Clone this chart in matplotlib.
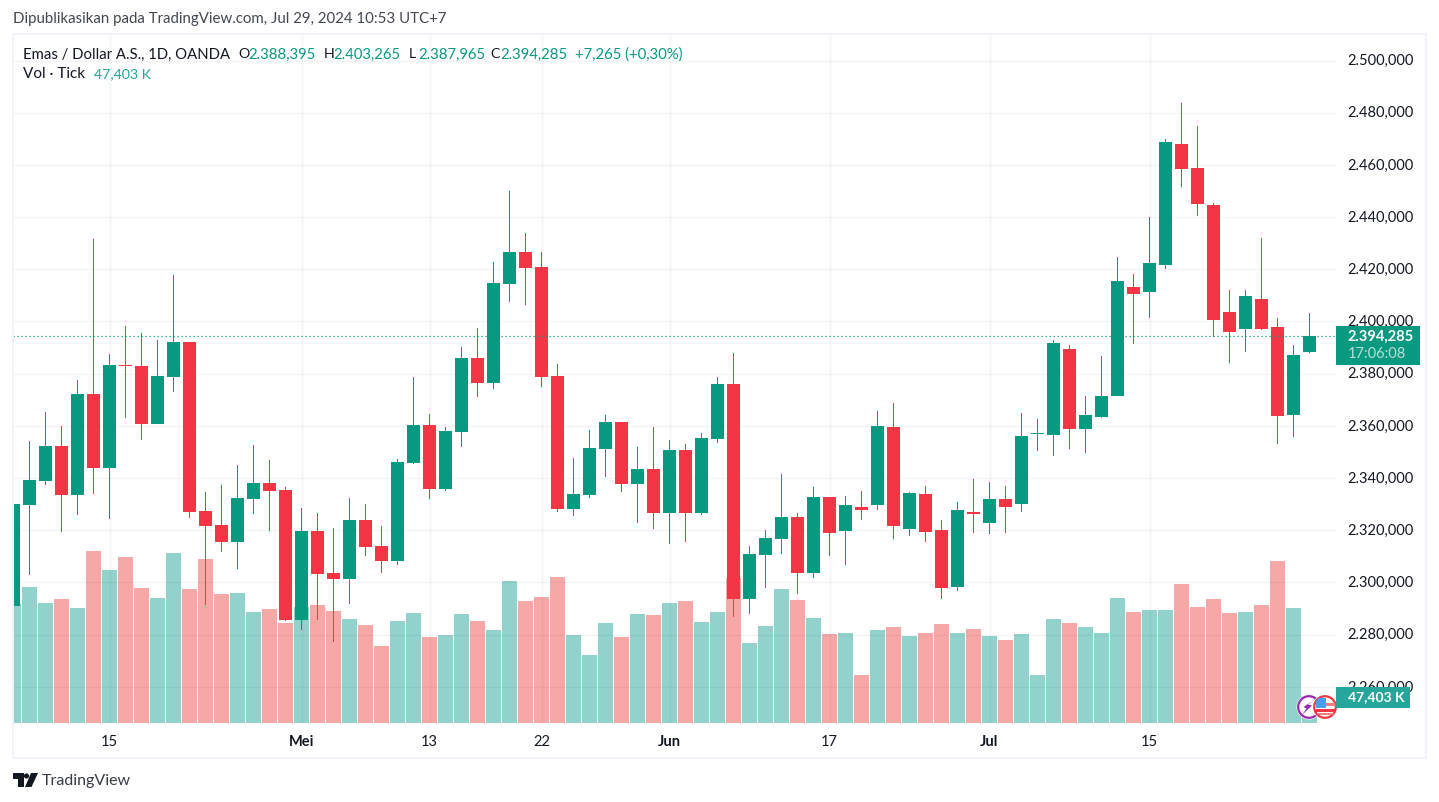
import matplotlib
matplotlib.use("Agg")
import matplotlib.pyplot as plt
from matplotlib.patches import Rectangle, Circle, Polygon
from matplotlib.transforms import ScaledTranslation
import numpy as np

FONT = ["Lato", "DejaVu Sans"]
plt.rcParams["font.family"] = FONT

opens = [2291.0,2329.69,2338.89,2352.3,2333.53,2372.22,2343.87,2383.33,2382.95,2360.73,2378.74,2392.15,2327.4,2322.03,2315.52,2331.99,2338.12,2335.44,2285.63,2319.73,
         2303.64,2301.34,2323.94,2314.0,2308.24,2345.78,2360.34,2335.82,2357.66,2386.01,2376.43,2414.36,2426.62,2420.88,2379.11,2328.16,2333.52,2351.14,2361.49,2337.73,
         2343.48,2326.63,2350.76,2326.63,2354.98,2376.05,2293.68,2310.53,2316.66,2325.09,2303.64,2332.76,2319.73,2328.93,2329.69,2359.58,2320.5,2333.91,2320.11,2298.27,
         2327.0,2322.79,2331.99,2330.07,2356.97,2356.59,2389.54,2358.88,2363.48,2371.53,2413.29,2411.38,2421.72,2468.08,2458.88,2444.71,2403.71,2397.2,2408.69,2397.97,
         2364.25,2388.395]
highs = [2330.46,2354.22,2365.33,2359.96,2377.59,2431.61,2387.55,2398.28,2395.59,2392.91,2417.82,2392.15,2334.68,2337.36,2345.02,2352.68,2346.94,2336.59,2328.55,2326.63,
         2320.88,2332.37,2330.07,2321.64,2347.31,2378.73,2364.55,2359.57,2390.23,2397.51,2422.79,2450.0,2433.9,2426.62,2383.71,2347.7,2358.42,2364.17,2361.49,2351.91,
         2359.58,2354.6,2353.06,2357.28,2378.73,2387.93,2313.98,2320.11,2341.57,2326.63,2336.59,2332.76,2333.14,2335.06,2365.71,2368.77,2334.67,2336.97,2323.94,2330.84,
         2339.65,2338.5,2336.97,2365.02,2362.72,2392.98,2391.07,2371.53,2386.85,2424.79,2418.27,2440.11,2470.0,2483.79,2474.98,2445.47,2412.14,2412.14,2432.07,2401.41,
         2391.07,2403.265]
lows = [2267.6,2302.87,2337.36,2319.35,2325.86,2333.91,2324.33,2363.03,2354.6,2360.73,2372.99,2324.71,2291.38,2311.69,2305.17,2326.25,2319.73,2285.25,2281.8,2285.63,
        2277.33,2291.8,2310.15,2303.64,2306.7,2345.4,2331.99,2335.05,2351.91,2371.07,2374.13,2407.47,2406.32,2374.9,2327.01,2325.47,2332.37,2340.42,2334.67,2322.79,
        2320.5,2314.75,2315.52,2325.86,2353.45,2286.78,2287.93,2297.89,2310.92,2295.59,2301.72,2310.15,2306.7,2323.94,2327.78,2316.66,2317.81,2315.52,2293.68,2296.74,
        2318.96,2318.58,2318.96,2327.01,2350.46,2348.54,2351.22,2349.69,2363.1,2371.53,2391.45,2401.41,2420.19,2451.61,2440.49,2394.13,2384.17,2388.39,2396.82,2353.14,
        2355.82,2387.965]
closes = [2330.08,2339.27,2352.3,2333.53,2372.22,2343.87,2383.33,2382.95,2360.73,2379.12,2392.15,2327.01,2321.65,2315.52,2332.38,2338.12,2335.06,2285.63,2319.73,2303.26,
          2301.34,2323.94,2313.6,2308.24,2346.16,2360.34,2335.82,2358.04,2386.01,2376.43,2414.75,2426.62,2420.49,2378.73,2328.16,2333.9,2351.53,2361.49,2337.73,2343.48,
          2326.63,2350.76,2326.63,2355.36,2376.05,2293.68,2310.92,2317.05,2325.09,2303.64,2332.76,2318.96,2329.69,2327.78,2359.96,2321.65,2334.29,2319.35,2297.89,2327.78,
          2326.24,2331.99,2328.92,2356.2,2357.35,2391.84,2358.88,2364.25,2371.53,2415.59,2410.61,2422.49,2468.85,2458.5,2445.09,2400.65,2396.05,2409.84,2397.2,2363.87,
          2387.24,2394.285]
volumes = [217,248,219,226,210,314,279,303,246,228,310,244,299,235,237,202,208,182,211,215,
           204,190,179,140,186,201,157,160,199,186,170,259,222,230,266,160,124,182,157,199,
           197,219,222,184,202,264,146,177,244,224,191,162,164,88,170,175,159,164,180,164,
           171,159,151,162,88,190,182,175,164,228,202,206,206,253,211,226,201,202,215,295,
           210,47.403]

price_ticks = list(range(2260, 2501, 20))
time_ticks = [6, 18, 26, 33, 41, 51, 61, 71]
time_labels = ["15", "Mei", "13", "22", "Jun", "17", "Jul", "15"]
month_labels = {"Mei", "Jun", "Jul"}
last_price = 2394.285

UP, DOWN = "#089981", "#F23645"
VUP, VDOWN = "#26A69A", "#EF5350"
TXT = "#131722"
W, H = 1439, 802

fig = plt.figure(figsize=(W / 100, H / 100), dpi=100, facecolor="white")
L, R, T, B = 13, 1336, 35, 723
rect = [L / W, 1 - B / H, (R - L) / W, (B - T) / H]

ax = fig.add_axes(rect, zorder=3)
axv = fig.add_axes(rect, zorder=2, sharex=ax)
ax.patch.set_visible(False)
axv.set_facecolor("white")

x = np.arange(len(closes))
o, h, l, c = map(np.array, (opens, highs, lows, closes))
up = c >= o
cols = [UP if u else DOWN for u in up]

# volume
axv.bar(x, volumes, width=15 / 16, color=[VUP if u else VDOWN for u in up],
        alpha=0.5, linewidth=0)
axv.set_ylim(0, (B - T) * 1.823)
axv.set_yticks([])

# candles: wicks, then bodies
ax.bar(x, h - l, bottom=l, width=1 / 16, color=cols, linewidth=0, zorder=3)
ax.bar(x, np.maximum(np.abs(c - o), 0.4), bottom=np.minimum(o, c), width=13 / 16,
       color=cols, linewidth=0, zorder=4)
ax.axhline(last_price, color=UP, linewidth=0.9, linestyle=(0, (1, 2.2)), zorder=5)

ax.set_xlim((L - 13.5) / 16, (R - 13.5) / 16)
ax.set_ylim(2420 - (B - 269.3) / 2.61, 2420 + (269.3 - T) / 2.61)
ax.set_yticks(price_ticks)
ax.set_yticklabels([f"{v:,.3f}".replace(",", "#").replace(".", ",").replace("#", ".") for v in price_ticks],
                   fontsize=10.5, color=TXT)
ax.yaxis.tick_right()
ax.tick_params(axis="y", length=0, pad=8)
shift = ScaledTranslation(0, 1 / 100, fig.dpi_scale_trans)
for t in ax.get_yticklabels():
    t.set_transform(t.get_transform() + shift)
ax.set_xticks(time_ticks)
ax.set_xticklabels(time_labels, fontsize=10.5, color=TXT)
for t in ax.get_xticklabels():
    if t.get_text() in month_labels:
        t.set_fontweight("bold")
ax.tick_params(axis="x", length=0, pad=8.6)
ax.set_axisbelow(True)
ax.grid(True, color="#363A45", alpha=0.055, linewidth=1.0)
for a in (ax, axv):
    for s in a.spines.values():
        s.set_visible(False)
plt.setp(axv.get_xticklabels(), visible=False)
axv.tick_params(axis="x", length=0)

# chrome in pixel coordinates
ov = fig.add_axes([0, 0, 1, 1], zorder=10)
ov.set_xlim(0, W)
ov.set_ylim(H, 0)
ov.axis("off")
ov.patch.set_visible(False)

ov.add_patch(Rectangle((13, 34), 1413, 724, fill=False, edgecolor="#F0F3FA", linewidth=1.5))

def txt(px, py, s, color=TXT, size=10.7, ha="left", weight="normal", alpha=None):
    ov.text(px, py, s, color=color, fontsize=size, ha=ha, va="center", fontweight=weight, alpha=alpha)

txt(13, 19.5, "Dipublikasikan pada TradingView.com, Jul 29, 2024 10:53 UTC+7", color="#434651", size=10.8)
txt(23, 54.5, "Emas / Dollar A.S., 1D, OANDA")
txt(238, 54.5, "O", size=10.2); txt(248.5, 54.5, "2.388,395", color=UP)
txt(323.5, 54.5, "H", size=10.2); txt(333.5, 54.5, "2.403,265", color=UP)
txt(409, 54.5, "L", size=10.2); txt(418, 54.5, "2.387,965", color=UP)
txt(490.5, 54.5, "C", size=10.2); txt(500.5, 54.5, "2.394,285", color=UP)
txt(575, 54.5, "+7,265 (+0,30%)", color=UP)
txt(23, 74.5, "Vol · Tick", size=11)
txt(94, 74.5, "47,403 K", color=VUP, size=10.2)

# icons
ov.add_patch(Circle((1309, 707), 12.5, facecolor="white", edgecolor="none"))
ov.add_patch(Circle((1309, 707), 10.8, facecolor="white", edgecolor="#9C27B0", linewidth=1.6))
ov.add_patch(Polygon([(1317, 698), (1308, 704.5), (1312, 705.5), (1302, 715), (1306.5, 708.5), (1303.5, 707)],
                     facecolor="#9C27B0", edgecolor="none"))
ring = Circle((1325, 707), 10.8, facecolor="white", edgecolor="#F23645", linewidth=1.6)
ov.add_patch(Circle((1325, 707), 12.5, facecolor="white", edgecolor="none"))
ov.add_patch(ring)
for yy, hh, xx, ww, col in [(703, 2.5, 1325, 12, "#F77C80"), (708.5, 3, 1316, 20, "#F23645"), (713, 2, 1317, 18, "#F77C80")]:
    ov.add_patch(Rectangle((xx, yy), ww, hh, facecolor=col, edgecolor="none", clip_path=ring))
blue = Rectangle((1316, 697.5), 10, 10, facecolor="#4A9DF0", edgecolor="none")
ov.add_patch(blue)
blue.set_clip_path(ring)

# last value tags
ov.add_patch(Rectangle((1336, 326), 84, 39, facecolor=UP, edgecolor="none"))
txt(1348, 336.5, "2.394,285", color="white", weight="bold", size=10.5)
txt(1348, 354.5, "17:06:08", color="white", alpha=0.7, size=10.5)
ov.add_patch(Rectangle((1336, 687), 74, 21, facecolor=VUP, edgecolor="none"))
txt(1348, 697.5, "47,403 K", color="white", weight="bold", size=10)

# TradingView logo
ov.add_patch(Polygon([(13, 773), (24, 773), (24, 787), (18, 787), (18, 779), (13, 779)], facecolor=TXT, edgecolor="none"))
ov.add_patch(Circle((26.5, 776), 2.6, facecolor=TXT, edgecolor="none"))
ov.add_patch(Polygon([(31, 773), (38, 773), (31.5, 787), (25, 787)], facecolor=TXT, edgecolor="none"))
txt(42, 780.5, "TradingView", color="#363A45", size=11.5)

fig.savefig("out.png", dpi=100, facecolor="white")
